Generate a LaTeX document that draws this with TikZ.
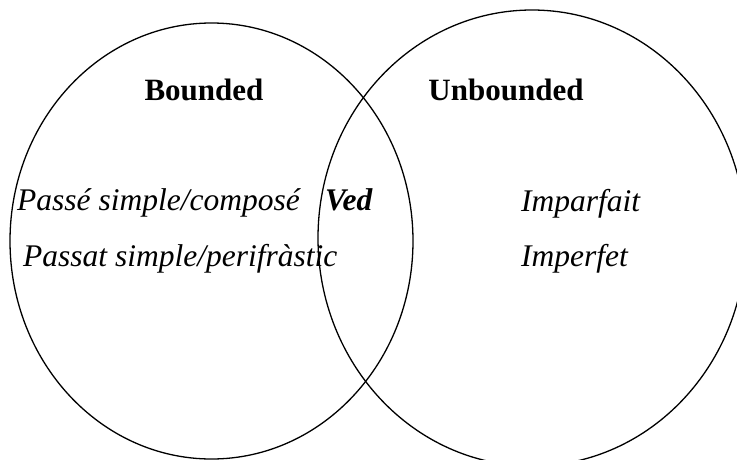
\documentclass[tikz,border=0pt]{standalone}
\usepackage{fontspec}
\setmainfont{Liberation Serif}
\begin{document}
\begin{tikzpicture}[x=1pt,y=-1pt,
  venn/.style={line width=1.3pt},
  head/.style={font=\fontsize{31}{34}\selectfont\bfseries, anchor=base, inner sep=0pt},
  item/.style={font=\fontsize{31.5}{34}\selectfont\itshape, anchor=base west, inner sep=0pt}]
\useasboundingbox (0,0) rectangle (737,459);
\clip (0,0) rectangle (737,459);
\fill[white] (0,0) rectangle (737,459);
\draw[venn] (211.5,241) ellipse [x radius=201.5pt, y radius=218pt];
\draw[venn] (532,238) ellipse [x radius=214pt, y radius=228pt];
\node[head] (bounded) at (204,100) {Bounded};
\node[head] (unbounded) at (506,100) {Unbounded};
\node[item] (passe) at (17,210) {Passé simple/composé};
\node[item, font=\fontsize{31.5}{34}\selectfont\bfseries\itshape] (ved) at (325,210) {Ved};
\node[item] (passat) at (23,266) {Passat simple/perifràstic};
\node[item] (imparfait) at (521,211) {Imparfait};
\node[item] (imperfet) at (521,266) {Imperfet};
\end{tikzpicture}
\end{document}
